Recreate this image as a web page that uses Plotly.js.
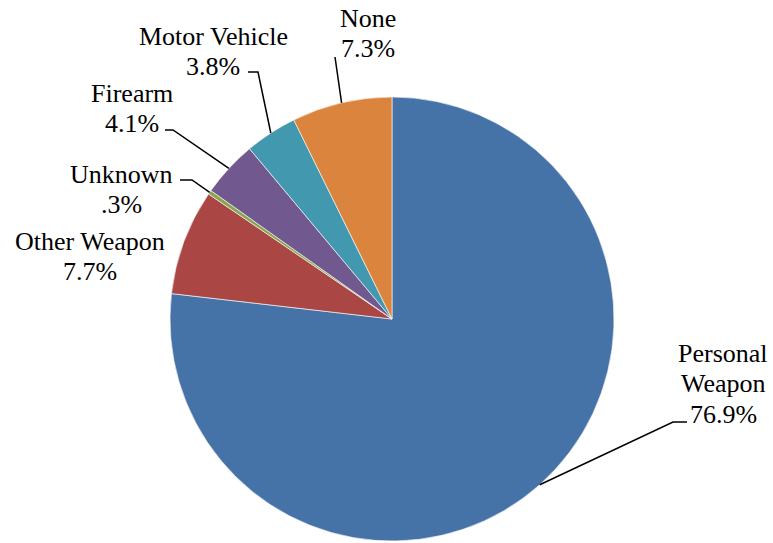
<!DOCTYPE html>
<html>
<head>
<meta charset="utf-8">
<script src="https://cdn.plot.ly/plotly-3.0.1.min.js"></script>
<style>html,body{margin:0;padding:0;background:#fff;}#chart{width:773px;height:543px;}</style>
</head>
<body>
<div id="chart"></div>
<script>
// ---- data ----
const labels = ['Personal Weapon', 'Other Weapon', 'Unknown', 'Firearm', 'Motor Vehicle', 'None'];
const values = [76.9, 7.7, 0.3, 4.1, 3.8, 7.3];
const pctText = ['76.9%', '7.7%', '.3%', '4.1%', '3.8%', '7.3%'];
const labelLines = [['Personal', 'Weapon'], ['Other Weapon'], ['Unknown'], ['Firearm'], ['Motor Vehicle'], ['None']];
const colors = ['#4572A7', '#AA4643', '#89A54E', '#71588F', '#4198AF', '#DB843D'];

// ---- layout geometry (pixels) ----
const W = 773, H = 543;
const cx = 392, cy = 319, R = 222;
const lineGap = 30.5;
// label first-line centres and leader elbows (pixels)
const labelPos = [
  {x: 723, y: 353, elbow: [[673, 422], [687, 422]]},
  {x: 90,  y: 241, elbow: null},
  {x: 121, y: 174, elbow: [[192, 180], [180, 180]]},
  {x: 132, y: 93,  elbow: [[173, 130], [165, 130]]},
  {x: 213, y: 36,  elbow: [[258, 72], [248, 72]]},
  {x: 368, y: 18,  elbow: [[335, 57]]}
];

const px = x => x / W;
const py = y => 1 - y / H;
const font = {family: '"Liberation Serif", "Times New Roman", serif', size: 26, color: '#000'};

const total = values.reduce((a, b) => a + b, 0);
let cum = 0;
const annotations = [];
const shapes = [];
values.forEach((v, i) => {
  const mid = (cum + v / 2) / total * 2 * Math.PI;
  cum += v;
  const tx = cx + R * Math.sin(mid);
  const ty = cy - R * Math.cos(mid);
  const lp = labelPos[i];
  const lines = labelLines[i].concat([pctText[i]]);
  lines.forEach((t, k) => {
    annotations.push({
      xref: 'paper', yref: 'paper', x: px(lp.x), y: py(lp.y + k * lineGap),
      xanchor: 'center', yanchor: 'middle', align: 'center', showarrow: false,
      text: t, font: font
    });
  });
  if (lp.elbow) {
    let path = 'M' + px(tx) + ',' + py(ty);
    lp.elbow.forEach(p => { path += ' L' + px(p[0]) + ',' + py(p[1]); });
    shapes.push({type: 'path', xref: 'paper', yref: 'paper', path: path,
      line: {color: '#000', width: 1.5}});
  }
});

const trace = {
  type: 'pie',
  labels: labels,
  values: values,
  sort: false,
  direction: 'clockwise',
  rotation: 0,
  textinfo: 'none',
  hoverinfo: 'label+percent',
  marker: {colors: colors, line: {color: '#ffffff', width: 0.6}},
  domain: {x: [px(cx - R), px(cx + R)], y: [py(cy + R), py(cy - R)]},
  showlegend: false
};

const layout = {
  width: W, height: H,
  margin: {l: 0, r: 0, t: 0, b: 0},
  paper_bgcolor: '#fff',
  showlegend: false,
  annotations: annotations,
  shapes: shapes
};

Plotly.newPlot('chart', [trace], layout, {displayModeBar: false, staticPlot: true});
</script>
</body>
</html>
